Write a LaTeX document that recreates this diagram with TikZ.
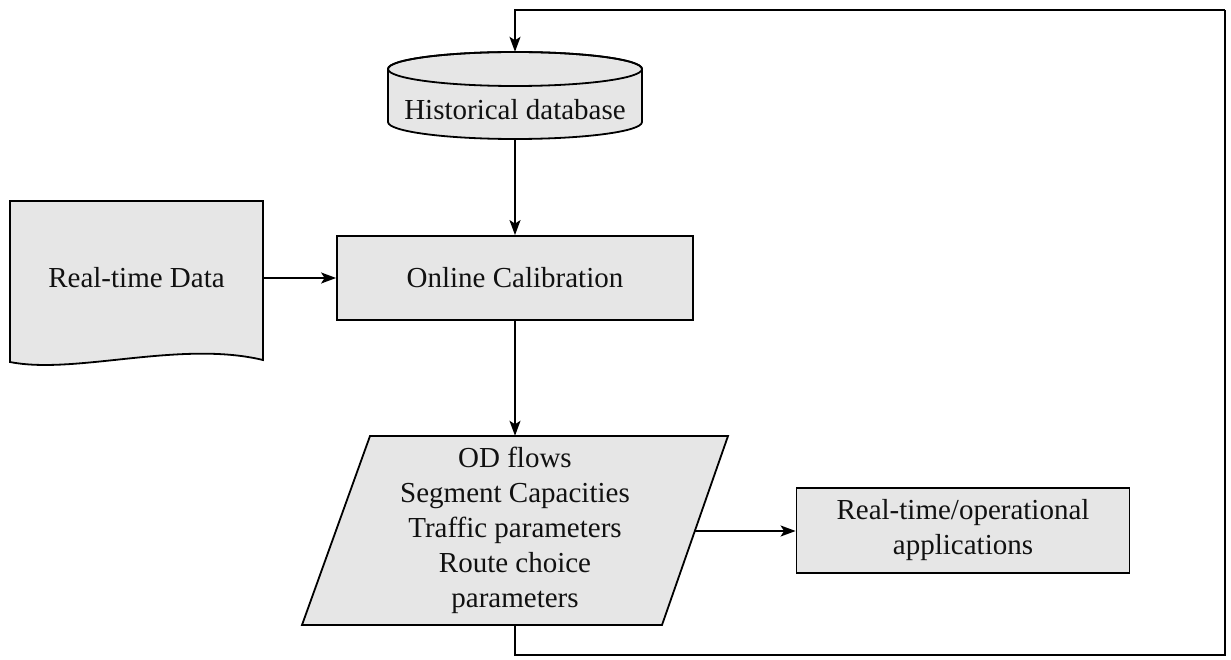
\documentclass[tikz,border=0pt]{standalone}
\usepackage{fontspec}
\setmainfont{Liberation Serif}
\usetikzlibrary{arrows.meta,calc}
\definecolor{boxfill}{HTML}{E6E6E6}
\definecolor{inkcol}{HTML}{111111}
\begin{document}
\begin{tikzpicture}[x=1pt,y=-1pt,
  every node/.style={font=\fontsize{29}{35}\selectfont, text=inkcol, align=center, inner sep=0pt},
  boxnode/.style={draw, fill=boxfill, line width=1.8pt, minimum width=#1},
  plain/.style={minimum width=#1},
  outline/.style={draw, fill=boxfill, line width=1.8pt},
  flowline/.style={line width=1.8pt, -{Stealth[length=15pt,width=11pt,inset=3.5pt]}},
  loopline/.style={line width=1.8pt}]
\useasboundingbox (0,0) rectangle (1231,660);

% database cylinder (outline drawn first, text node on top)
\path[outline] (388,69) -- (388,122)
  arc[start angle=180, end angle=0, x radius=127, y radius=17]
  -- (642,69)
  arc[start angle=0, end angle=-180, x radius=127, y radius=17] -- cycle;
\draw[line width=1.8pt] (515,69) ellipse[x radius=127, y radius=17];
\node[plain=254pt, minimum height=87pt] (db) at (515,95.5) {};
\node at (515,110) {Historical database};

% real-time data document
\path[outline] (10,201) -- (263,201) -- (263,360)
  .. controls (180,340) and (75,375) .. (10,362) -- cycle;
\node[plain=253pt, minimum height=154pt] (rt) at (136.5,278) {Real-time Data};

% calibration step
\node[boxnode=356pt, minimum height=84pt] (cal) at (515,278) {Online Calibration};

% calibrated outputs (parallelogram)
\path[outline] (370,436) -- (728,436) -- (662,625) -- (302,625) -- cycle;
\node[plain=290pt, minimum height=189pt] (od) at (515,530.5)
  {OD flows\\Segment Capacities\\Traffic parameters\\Route choice\\parameters};
\coordinate (odr) at (694.8,531);

% applications
\node[boxnode=333pt, minimum height=85pt] (app) at (963,530.5)
  {Real-time/operational\\applications};

% connectors
\draw[flowline] (db.south) -- (cal.north);
\draw[flowline] (rt.east) -- (cal.west);
\draw[flowline] (cal.south) -- (od.north);
\draw[flowline] (odr) -- (app.west |- odr);

% feedback loop to the database
\coordinate (loopbr) at (1225,655);
\coordinate (looptr) at (1225,10);
\draw[loopline] (od.south) |- (loopbr) -- (looptr);
\draw[flowline] (looptr) -| (db.north);
\end{tikzpicture}
\end{document}
